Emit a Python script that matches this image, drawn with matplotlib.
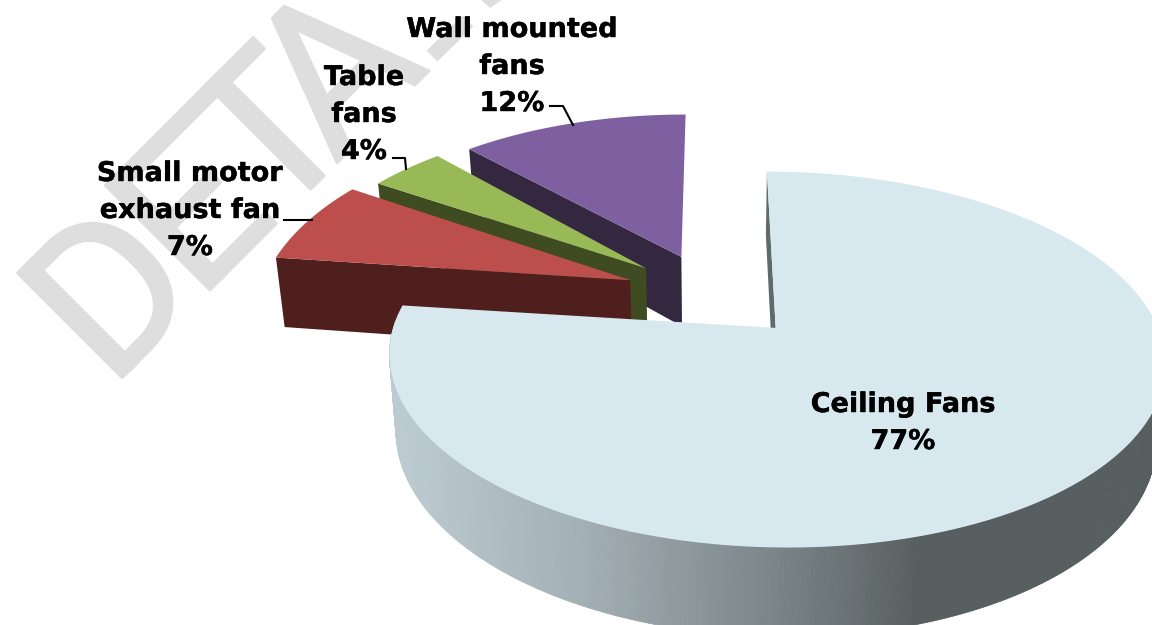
import numpy as np
import matplotlib
matplotlib.use('Agg')
import matplotlib.pyplot as plt
import matplotlib.patheffects as pe
from matplotlib.collections import PolyCollection
from matplotlib.colors import LinearSegmentedColormap
from matplotlib.patches import Polygon

# Slice data, clockwise from twelve o'clock
categories = ['Ceiling Fans', 'Small motor\nexhaust fan', 'Table\nfans', 'Wall mounted\nfans']
shares = [77, 7, 4, 12]

top_colors = ['#d7e9ef', '#bc4e4c', '#98b955', '#7e60a0']
side_colors = ['#5e6b6b', '#4f1f1e', '#3f4b20', '#332840']
label_pos = [(903, 423.5), (190, 211), (364, 115), (512, 67)]
leaders = [None,
           [(284, 220), (312, 220)],
           [(393, 158), (405, 158), (406, 169)],
           [(550, 106), (563, 106), (573, 125)]]

# Watermark letters and their distance along the diagonal baseline
mark_letters = ['D', 'E', 'T', 'A']
mark_offsets = [-14, 110, 217, 304]
mark_color = '#dedede'

# Projection parameters (pixels)
cx, cy = 715, 296
rx, ry = 371, 172
persp = 0.1635
depth = 72
shrink = 0.02
explode = 0.24
# Extra foreshortening of the slices at the back, around their own tips
back_stretch = [None, (1.0, 1.10), (0.97, 1.05), (0.98, 1.03)]
back_shift = np.array([-2, -2])


def project(x, y, z=0.0):
    s = 1 / (1 + persp * y)
    sx = cx + rx * x * s
    sy = cy - ry * y * s
    sx = cx + (sx - cx) * (1 - shrink * z)
    sy = sy + depth * s * z
    return np.column_stack([sx, sy])


def slice_outline(start, stop, n=500):
    mid = np.radians((start + stop) / 2)
    ox, oy = explode * np.sin(mid), explode * np.cos(mid)
    th = np.radians(np.linspace(start, stop, n))
    return ox, oy, ox + np.sin(th), oy + np.cos(th)


fig = plt.figure(figsize=(11.52, 6.25), dpi=100)
ax = fig.add_axes([0, 0, 1, 1])
ax.set_xlim(0, 1152)
ax.set_ylim(625, 0)
ax.axis('off')

# Background watermark, one letter at a time along the 45 degree baseline
for letter, dist in zip(mark_letters, mark_offsets):
    step = dist / np.sqrt(2)
    ax.text(120 + step, 380 - step, letter, rotation=45, rotation_mode='anchor', ha='left', va='baseline',
            fontsize=150, family='Roboto', color=mark_color, zorder=1,
            path_effects=[pe.withStroke(linewidth=2, foreground=mark_color)])

# Strokes of the next watermark letters, running off the top edge
ax.plot([432, 468], [56, 21], color=mark_color, lw=11, solid_capstyle='butt', zorder=1)
ax.add_patch(Polygon([(480, -1), (490, 8), (503, -1)], closed=True, fc=mark_color, ec='none', zorder=1))

angles = np.cumsum([0] + shares) * 3.6
rim_cmap = LinearSegmentedColormap.from_list(
    'rim', [(0, '#bccbd1'), (0.34, '#a3b0b5'), (0.72, '#7b8588'), (1, '#565e5f')])

# Back slices first so that the nearer ones cover them
for i in [3, 2, 1, 0]:
    ox, oy, ex, ey = slice_outline(angles[i], angles[i + 1])
    apex = project(np.array([ox]), np.array([oy]))
    apex_low = project(np.array([ox]), np.array([oy]), 1.0)
    top = project(ex, ey)
    low = project(ex, ey, 1.0)

    if i > 0:
        stretch = np.array(back_stretch[i])
        top = apex + (top - apex) * stretch + back_shift
        low = apex_low + (low - apex_low) * stretch + back_shift
        apex = apex + back_shift
        apex_low = apex_low + back_shift

    if i == 0:
        # Rim shaded from left to right, front part only
        keep = [k for k in range(len(top) - 1) if ex[k] < ox or ey[k] < oy - 0.1]
        quads = [[top[k], top[k + 1], low[k + 1], low[k]] for k in keep]
        shade = np.clip((top[keep, 0] + top[[k + 1 for k in keep], 0]) / 2, 400, 922)
        rim_colors = rim_cmap((shade - 400) / 522)
        ax.add_collection(PolyCollection(quads, facecolors=rim_colors, edgecolors=rim_colors,
                                         linewidths=0.6, zorder=4))

    # Cut face along the start edge of the slice
    cut = np.vstack([top[0], apex, apex_low, low[0]])
    z = 4 if i == 0 else 2 + (3 - i) * 0.1
    ax.add_patch(Polygon(cut, closed=True, fc=side_colors[i], ec='none', zorder=z))

    face = np.vstack([apex, top])
    z = 5 if i == 0 else 2.05 + (3 - i) * 0.1
    ax.add_patch(Polygon(face, closed=True, fc=top_colors[i], ec='none', zorder=z))

for name, value, pos, leader in zip(categories, shares, label_pos, leaders):
    ax.text(pos[0], pos[1], f'{name}\n{value}%', ha='center', va='center', fontsize=19.5,
            fontweight='bold', family='DejaVu Sans', color='black', linespacing=1.55, zorder=7,
            path_effects=[pe.withStroke(linewidth=0.3, foreground='black')])
    if leader:
        xs, ys = zip(*leader)
        ax.plot(xs, ys, color='black', lw=1.5, zorder=6)

fig.savefig('out.png', dpi=100, facecolor='white')
